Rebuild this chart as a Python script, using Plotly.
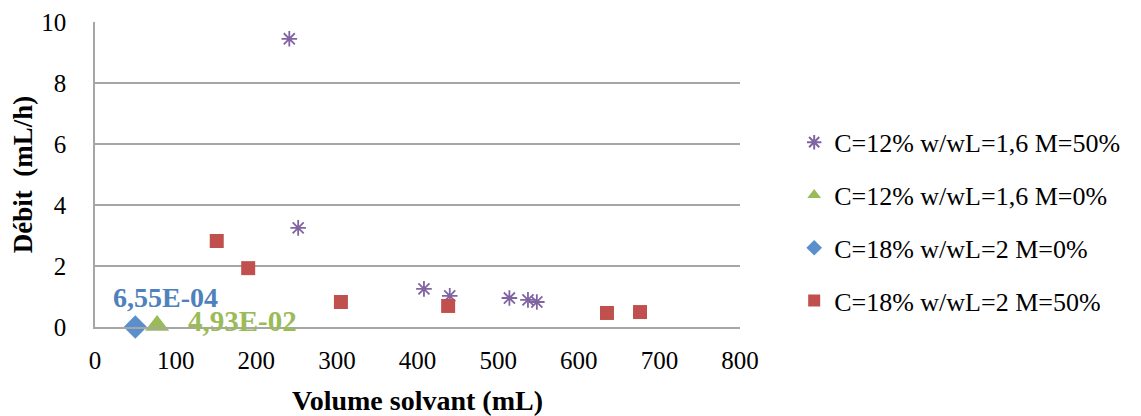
import plotly.graph_objects as go

# ----------------------------------------------------------
# Data
# ----------------------------------------------------------
NAME_A = "C=12% w/wL=1,6 M=50%"
VOL_A = [241, 252, 408, 440, 514, 537, 548]
DEB_A = [9.45, 3.25, 1.25, 1.02, 0.95, 0.89, 0.82]

NAME_B = "C=12% w/wL=1,6 M=0%"
VOL_B = [77]
DEB_B = [0.0493]

NAME_C = "C=18% w/wL=2 M=0%"
VOL_C = [50]
DEB_C = [0.000655]

NAME_D = "C=18% w/wL=2 M=50%"
VOL_D = [151, 190, 305, 438, 635, 676]
DEB_D = [2.82, 1.93, 0.82, 0.69, 0.46, 0.49]

LABEL_B = "4,93E-02"
LABEL_C = "6,55E-04"

SERIF = "Liberation Serif, DejaVu Serif, serif"
PURPLE = "#8064A2"
GREEN = "#9BBB59"
BLUE = "#4F81BD"
RED = "#C0504D"
GRID = "#A6A6A6"

fig = go.Figure()

fig.add_trace(go.Scatter(
    x=VOL_A, y=DEB_A, mode="markers", name=NAME_A, legendgroup="a",
    cliponaxis=False,
    marker=dict(symbol="asterisk-open", size=13, color=PURPLE,
                line=dict(color=PURPLE, width=1.8)),
))
fig.add_trace(go.Scatter(
    x=VOL_B, y=DEB_B, mode="markers", name=NAME_B, legendgroup="b",
    cliponaxis=False,
    marker=dict(symbol="triangle-up", size=21, color=GREEN),
))
fig.add_trace(go.Scatter(
    x=VOL_C, y=DEB_C, mode="markers", name=NAME_C, legendgroup="c",
    cliponaxis=False,
    marker=dict(symbol="diamond", size=18, color="#5B8FCB"),
))
fig.add_trace(go.Scatter(
    x=VOL_D, y=DEB_D, mode="markers", name=NAME_D, legendgroup="d",
    cliponaxis=False,
    marker=dict(symbol="square", size=14, color=RED),
))

# value labels on the two near-zero points
fig.add_annotation(x=VOL_C[0], y=DEB_C[0], text=f"<b>{LABEL_C}</b>",
                   showarrow=False, xanchor="center", yanchor="middle",
                   xshift=30, yshift=29,
                   font=dict(family=SERIF, size=28, color=BLUE))
fig.add_annotation(x=VOL_B[0], y=DEB_B[0], text=f"<b>{LABEL_B}</b>",
                   showarrow=False, xanchor="left", yanchor="middle",
                   xshift=29, yshift=5,
                   font=dict(family=SERIF, size=29, color=GREEN))

fig.update_layout(
    width=1133, height=408,
    margin=dict(l=87, r=401, t=14, b=89),
    plot_bgcolor="white", paper_bgcolor="white",
    font=dict(family=SERIF, size=25, color="black"),
    legend=dict(x=1.084, xanchor="left", y=0.345, yanchor="middle",
                tracegroupgap=16, itemsizing="constant", itemwidth=30,
                font=dict(family=SERIF, size=26, color="black")),
    showlegend=True,
)

fig.update_xaxes(
    range=[0, 800], dtick=100, showgrid=False, zeroline=False,
    showline=True, linecolor=GRID, linewidth=1.5, automargin=False,
    ticks="", ticklabelstandoff=10,
    tickfont=dict(family=SERIF, size=25),
    title=dict(text="<b>Volume solvant (mL)</b>", standoff=21,
               font=dict(family=SERIF, size=28)),
)
fig.update_yaxes(
    range=[0, 10], dtick=2, showgrid=True, gridcolor=GRID, gridwidth=1.5,
    zeroline=False, showline=True, linecolor=GRID, linewidth=1.5,
    automargin=False,
    ticks="", ticklabelstandoff=22,
    tickfont=dict(family=SERIF, size=25),
    title=dict(text="<b>Débit  (mL/h)</b>", standoff=6,
               font=dict(family=SERIF, size=27)),
)

fig.write_html("out.html")
